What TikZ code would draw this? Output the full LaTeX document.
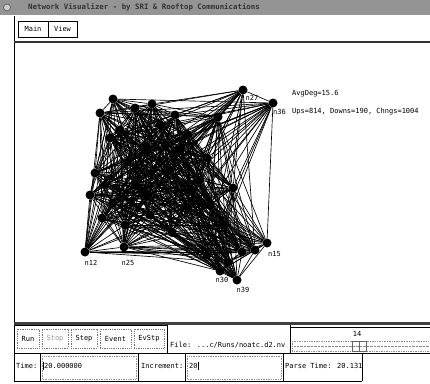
\documentclass[tikz,border=0pt]{standalone}
\usepackage{fontspec}
\newfontfamily\uimono{DejaVu Sans Mono}
\usetikzlibrary{backgrounds}
\begin{document}
\begin{tikzpicture}[x=1pt,y=-1pt,
  ui/.style={font=\uimono\fontsize{7}{8}\selectfont, inner sep=0pt, text=black},
  vtx/.style={circle, fill=black, inner sep=0pt, minimum size=9pt},
  edge/.style={line width=0.65pt, black},
  lbl/.style={font=\uimono\fontsize{7}{8}\selectfont, inner sep=0pt},
  frame/.style={line width=0.7pt, black},
  btn/.style={draw=black!55, densely dotted, line width=0.8pt, minimum height=19pt, inner sep=0pt, font=\uimono\fontsize{7}{8}\selectfont},
  menubtn/.style={draw=black, line width=0.6pt, minimum height=16pt, inner sep=0pt, font=\uimono\fontsize{7}{8}\selectfont},
  field/.style={draw=black!45, densely dotted, line width=0.7pt}
]
\useasboundingbox (0,0) rectangle (430,383);
% title bar
\fill[black!42] (0,0) rectangle (430,15);
\node[circle, draw=black!80, fill=black!20, minimum size=7pt, inner sep=0pt] (icon) at (7,7.5) {};
\node[ui, anchor=west, text=black!80, font=\uimono\bfseries\fontsize{7.4}{8}\selectfont] (title) at (28,7.5) {Network Visualizer - by SRI \& Rooftop Communications};
% window frame
\draw[frame] (14,16) -- (14,381);
% menu
\node[menubtn, minimum width=30pt] (main) at (33,29) {Main};
\node[menubtn, minimum width=29pt] (view) at (62.5,29) {View};
\draw[line width=2pt, black!80] (14,42) -- (430,42);
% stats
\node[ui, anchor=west] (avg) at (292,94) {AvgDeg=15.6};
\node[ui, anchor=west] (ups) at (292,112) {Ups=814, Downs=190, Chngs=1004};
% graph nodes
\def\nodelist{n27/243/90,n36/273/103,n12/85/252,n25/124/247,n15/267/243,n30/220/271,n39/237/280,
m1/113/99,m2/100/113,m3/135/108,m4/152/104,m5/110/138,m6/147/147,m7/128/162,m8/95/173,m9/90/195,
m10/102/218,m11/218/117,m12/188/135,m13/233/188,m14/188/208,m15/172/232,m16/207/158,m17/170/170,
m18/113/203,m19/207/255,m20/242/252,m21/160/125,m22/200/180,m23/135/185,m24/225/225,m25/150/215,
m26/165/145,m27/120/130,m28/180/150,m29/105/185,m30/255/250,m31/228/262,m32/190/190,
m33/145/195,m34/210/205,m35/175/115,m36/125/225}
\foreach \na/\xa/\ya in \nodelist {\node[vtx] (\na) at (\xa,\ya) {};}
\begin{pgfonlayer}{background}
\pgfmathsetseed{11}
\foreach \na/\xa/\ya [count=\ci] in \nodelist {
  \foreach \nb/\xb/\yb [count=\cj] in \nodelist {
    \ifnum\cj>\ci
      \pgfmathsetmacro\dd{veclen(\xa-\xb,\ya-\yb)}
      \pgfmathsetmacro\pp{max(32,97-0.32*\dd)}
      \pgfmathrandominteger{\rr}{0}{99}
      \ifdim\rr pt<\pp pt \draw[edge] (\na) -- (\nb);\fi
    \fi
  }
}
\end{pgfonlayer}
% node labels
\node[lbl] (l27) at (252,98) {n27};
\node[lbl, anchor=west] (l36) at (273,112) {n36};
\node[lbl] (l12) at (91,263) {n12};
\node[lbl] (l25) at (128,263) {n25};
\node[lbl, anchor=west] (l15) at (268,254) {n15};
\node[lbl] (l30) at (222,280) {n30};
\node[lbl] (l39) at (243,290) {n39};
% bottom separator
\draw[line width=2.5pt, black!75] (14,323.5) -- (430,323.5);
% button panel
\draw[frame] (14,325) rectangle (167,353);
\node[btn, minimum width=22pt] (run) at (28,338.5) {Run};
\node[btn, minimum width=26pt, text=black!40] (stop) at (55,338.5) {Stop};
\node[btn, minimum width=26pt] (stepb) at (84,338.5) {Step};
\node[btn, minimum width=31pt] (event) at (115.5,338.5) {Event};
\node[btn, minimum width=30pt] (evstp) at (149,338.5) {EvStp};
\node[ui, anchor=west] (file) at (170,345) {File: ...c/Runs/noatc.d2.nv};
% slider panel
\draw[frame] (290,325) -- (290,353);
\draw[frame] (290,327) -- (430,327);
\node[ui] (val) at (357,334) {14};
\draw[field] (292,341) rectangle (431,351);
\draw[black!45, densely dotted] (294,346) -- (430,346);
\draw[black!60, line width=0.7pt] (352,341) rectangle (366,351);
\draw[black!60] (359,341) -- (359,351);
% bottom row
\draw[frame] (14,353) -- (430,353);
\draw[frame] (14,381) -- (362,381);
\foreach \xx [count=\k] in {40,138,185,283,362} {\coordinate (t\k) at (\xx,353); \coordinate (b\k) at (\xx,381); \draw[frame] (t\k) -- (b\k);}
\node[ui, anchor=west] (timel) at (16,366) {Time:};
\draw[field] (42,356) rectangle (136,379);
\node[ui, anchor=west] (timev) at (44,366) {20.000000};
\draw[black, line width=0.5pt] (43.5,362) -- (43.5,370);
\node[ui, anchor=west] (incl) at (141,366) {Increment:};
\draw[field] (187,356) rectangle (281,379);
\node[ui, anchor=west] (incv) at (189,366) {20};
\draw[black, line width=0.5pt] (198,362) -- (198,370);
\node[ui, anchor=west] (parse) at (285,366) {Parse Time: 20.131};
\end{tikzpicture}
\end{document}
